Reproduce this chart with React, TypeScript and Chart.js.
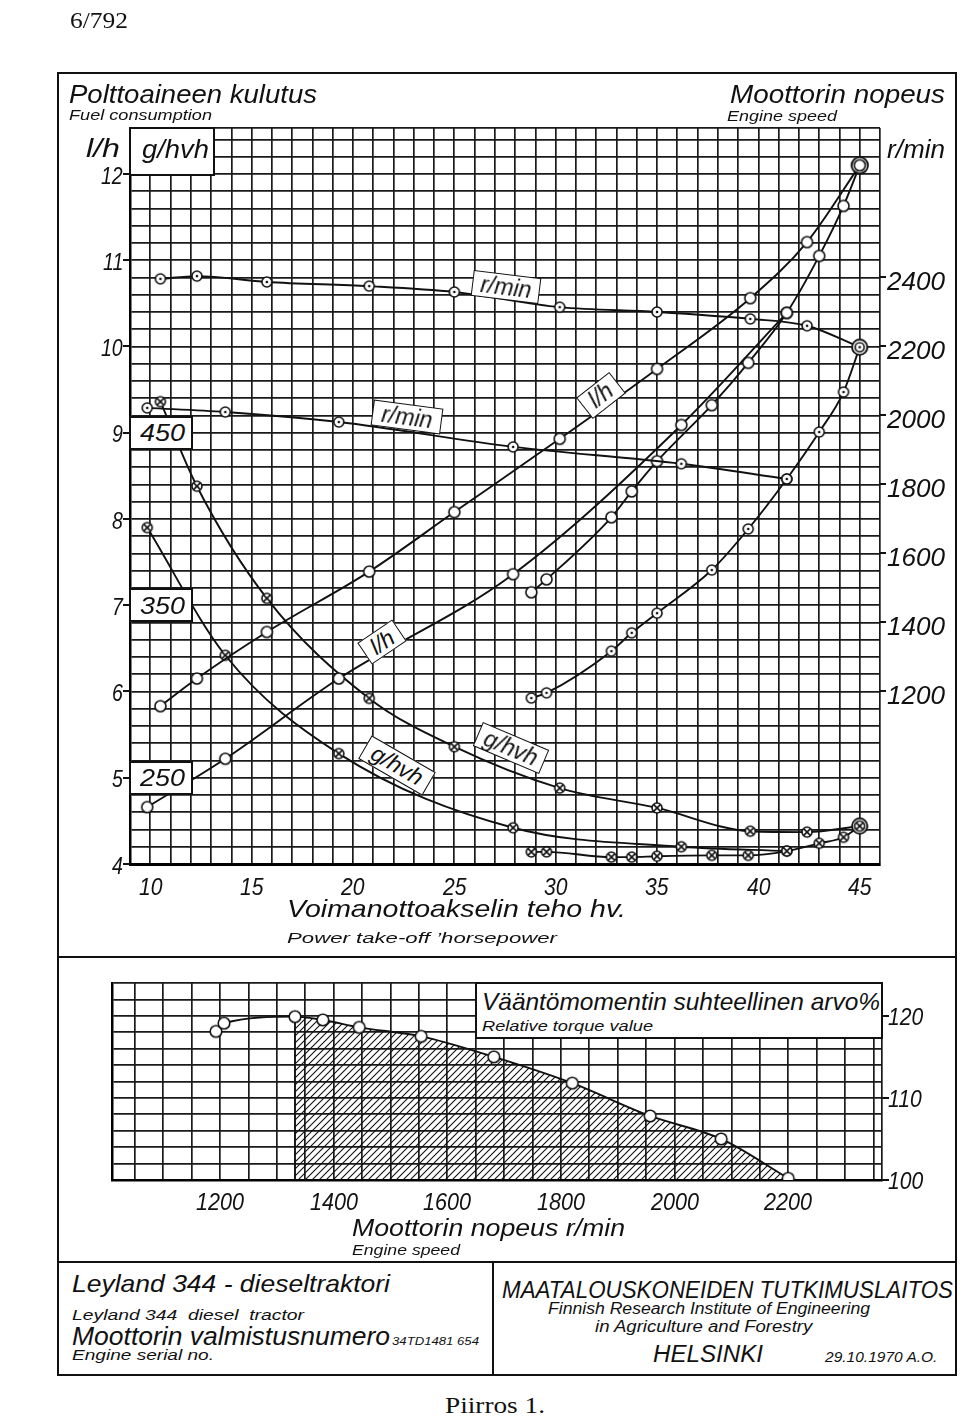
import React, { useEffect, useRef } from 'react';
import { Chart, registerables } from 'chart.js';

Chart.register(...registerables);

// ---------------- Upper chart: fuel consumption vs PTO horsepower ----------------
// Governor run A (≈2400 r/min no load → 2200 r/min at maximum power)
const hpA = [10.5, 12.3, 15.75, 20.8, 25.0, 30.2, 35.0, 39.6, 42.4, 45.0];
const fuelLhA = [5.83, 6.15, 6.69, 7.39, 8.08, 8.93, 9.74, 10.56, 11.21, 12.1];
const speedA = [2396, 2404, 2387, 2375, 2358, 2314, 2300, 2280, 2260, 2198];
const specA = [468, 419, 354, 296, 268, 244, 232.5, 219, 218.5, 222];

// Governor run B (≈2000 r/min)
const hpB = [9.85, 13.7, 19.3, 27.9, 36.2, 41.4];
const fuelLhB = [4.66, 5.22, 6.15, 7.36, 9.09, 10.39];
const speedB = [2022, 2010, 1981, 1909, 1860, 1816];
const specB = [395, 321, 264, 221, 210, 207.5];

// Full-load run (engine speed pulled down)
const hpF = [28.8, 29.55, 32.75, 33.75, 35.0, 37.7, 39.5, 41.4, 43.0, 44.2, 45.0];
const fuelLhF = [7.15, 7.3, 8.02, 8.32, 8.67, 9.32, 9.81, 10.39, 11.05, 11.63, 12.1];
const speedF = [1181, 1196, 1317, 1370, 1427, 1552, 1671, 1816, 1952, 2068, 2198];
const specF = [207, 207, 204, 204, 204.5, 205, 205, 207.5, 212, 215.5, 222];

const hpTicks = [10, 15, 20, 25, 30, 35, 40, 45];
const lhTicks = [4, 5, 6, 7, 8, 9, 10, 11, 12];
const rpmTicks = [2400, 2200, 2000, 1800, 1600, 1400, 1200];
const gTicks = [450, 350, 250];

// ---------------- Lower chart: relative torque ----------------
const torqueRpm = [1193, 1207, 1332, 1381, 1445, 1554, 1682, 1820, 1957, 2082, 2200];
const torquePct = [118.1, 119.1, 119.9, 119.5, 118.6, 117.5, 115.0, 111.8, 107.8, 105.0, 100.2];
const torqueRpmTicks = [1200, 1400, 1600, 1800, 2000, 2200];
const torquePctTicks = [120, 110, 100];
const hatchStart = 2;

// ---------------- layout ----------------
const UP = { left: 130, right: 880, top: 128, bottom: 864, xMin: 9, xMax: 46, yMin: 4, yMax: 12.533 };
const rpmOfL = (l: number) => 1200 + (l - 6) * 250;
const gOfL = (l: number) => 250 + (l - 5) * 50;
const LO = { left: 112, right: 882, top: 983, bottom: 1180, xMin: 1010, xMax: 2365, yMin: 100, yMax: 124 };
const UP_CANVAS_H = 940;
const LO_CANVAS_TOP = 960;
const LO_CANVAS_H = 260;

const ux = (v: number) => UP.left + ((v - UP.xMin) / (UP.xMax - UP.xMin)) * (UP.right - UP.left);
const uy = (l: number) => UP.bottom - ((l - UP.yMin) / (UP.yMax - UP.yMin)) * (UP.bottom - UP.top);
const lx = (v: number) => LO.left + ((v - LO.xMin) / (LO.xMax - LO.xMin)) * (LO.right - LO.left);
const ly = (v: number) => LO.bottom - ((v - LO.yMin) / (LO.yMax - LO.yMin)) * (LO.bottom - LO.top);

const INK = '#111';
const SANS = '"Liberation Sans", Arial, sans-serif';
const SERIF = '"Liberation Serif", "Times New Roman", serif';

function marker(kind: 'open' | 'dot' | 'cross', r: number, outer = 0): HTMLCanvasElement {
  const R = Math.max(r, outer);
  const size = Math.ceil(2 * R + 4);
  const c = document.createElement('canvas');
  c.width = size;
  c.height = size;
  const g = c.getContext('2d')!;
  const m = size / 2;
  g.lineWidth = 1.6;
  g.strokeStyle = INK;
  g.fillStyle = '#fff';
  if (outer) {
    g.beginPath();
    g.arc(m, m, outer, 0, Math.PI * 2);
    g.fill();
    g.stroke();
  }
  g.beginPath();
  g.arc(m, m, r, 0, Math.PI * 2);
  g.fill();
  g.stroke();
  if (kind === 'dot') {
    g.fillStyle = INK;
    g.beginPath();
    g.arc(m, m, 1.3, 0, Math.PI * 2);
    g.fill();
  }
  if (kind === 'cross') {
    const d = r * 0.68;
    g.beginPath();
    g.moveTo(m - d, m - d);
    g.lineTo(m + d, m + d);
    g.moveTo(m + d, m - d);
    g.lineTo(m - d, m + d);
    g.stroke();
  }
  return c;
}

function hatchPattern(): CanvasPattern {
  const s = 7;
  const c = document.createElement('canvas');
  c.width = s;
  c.height = s;
  const g = c.getContext('2d')!;
  g.strokeStyle = INK;
  g.lineWidth = 1.1;
  g.beginPath();
  g.moveTo(0, s);
  g.lineTo(s, 0);
  g.moveTo(-2, 2);
  g.lineTo(2, -2);
  g.moveTo(s - 2, s + 2);
  g.lineTo(s + 2, s - 2);
  g.stroke();
  return g.createPattern(c, 'repeat')!;
}

function series(xs: number[], ys: number[], axis: string, m: HTMLCanvasElement, mLast?: HTMLCanvasElement): any {
  return {
    data: xs.map((x, i) => ({ x, y: ys[i] })),
    yAxisID: axis,
    borderColor: INK,
    borderWidth: 1.9,
    backgroundColor: 'transparent',
    fill: false,
    cubicInterpolationMode: 'monotone',
    pointStyle: (ctx: any) => (mLast && ctx.dataIndex === xs.length - 1 ? mLast : m),
    pointRadius: 6,
    pointHoverRadius: 6,
  };
}

const gridStyle = { color: '#1a1a1a', lineWidth: 1.7, drawTicks: false };

function upperConfig(): any {
  const mOpen = marker('open', 5.5);
  const mDot = marker('dot', 5);
  const mCross = marker('cross', 5);
  const mOpenD = marker('open', 5.5, 8);
  const mDotD = marker('dot', 4.5, 7.5);
  const mCrossD = marker('cross', 5, 7.5);
  return {
    type: 'line',
    data: {
      datasets: [
        series(hpA, speedA, 'yR', mDot, mDotD),
        series(hpB, speedB, 'yR', mDot),
        series(hpF, speedF, 'yR', mDot, mDotD),
        series(hpA, fuelLhA, 'y', mOpen, mOpenD),
        series(hpB, fuelLhB, 'y', mOpen),
        series(hpF, fuelLhF, 'y', mOpen, mOpenD),
        series(hpA, specA, 'yG', mCross, mCrossD),
        series(hpB, specB, 'yG', mCross),
        series(hpF, specF, 'yG', mCross, mCrossD),
      ],
    },
    options: {
      animation: false,
      responsive: false,
      maintainAspectRatio: false,
      devicePixelRatio: 1,
      events: [],
      layout: { padding: { left: UP.left, top: UP.top, right: 960 - UP.right, bottom: UP_CANVAS_H - UP.bottom } },
      plugins: { legend: { display: false }, tooltip: { enabled: false } },
      scales: {
        x: {
          type: 'linear',
          position: 'bottom',
          min: UP.xMin,
          max: UP.xMax,
          ticks: { display: false, stepSize: 1 },
          grid: gridStyle,
          border: { display: true, color: '#000', width: 3 },
        },
        y: {
          type: 'linear',
          position: 'left',
          min: UP.yMin,
          max: UP.yMax,
          afterBuildTicks: (s: any) => {
            const t: any[] = [];
            for (let i = 0; i <= 42; i++) t.push({ value: UP.yMin + i * 0.2 });
            t.push({ value: UP.yMax });
            s.ticks = t;
          },
          ticks: { display: false },
          grid: gridStyle,
          border: { display: true, color: '#000', width: 2.5 },
        },
        yR: { type: 'linear', display: false, position: 'right', min: rpmOfL(UP.yMin), max: rpmOfL(UP.yMax) },
        yG: { type: 'linear', display: false, position: 'left', min: gOfL(UP.yMin), max: gOfL(UP.yMax) },
      },
    },
  };
}

function lowerConfig(): any {
  const mOpen = marker('open', 5.8);
  const pts = torqueRpm.map((x, i) => ({ x, y: torquePct[i] }));
  return {
    type: 'line',
    data: {
      datasets: [
        {
          data: pts,
          borderColor: INK,
          borderWidth: 1.9,
          fill: false,
          cubicInterpolationMode: 'monotone',
          pointStyle: mOpen,
          pointRadius: 6,
        },
        {
          data: pts.slice(hatchStart),
          borderColor: 'transparent',
          borderWidth: 0,
          backgroundColor: hatchPattern(),
          fill: 'start',
          cubicInterpolationMode: 'monotone',
          pointRadius: 0,
        },
        {
          data: [
            { x: torqueRpm[hatchStart], y: torquePct[hatchStart] },
            { x: torqueRpm[hatchStart], y: LO.yMin },
          ],
          borderColor: INK,
          borderWidth: 1.9,
          fill: false,
          pointRadius: 0,
        },
      ],
    },
    options: {
      animation: false,
      responsive: false,
      maintainAspectRatio: false,
      devicePixelRatio: 1,
      events: [],
      layout: {
        padding: {
          left: LO.left,
          top: LO.top - LO_CANVAS_TOP,
          right: 960 - LO.right,
          bottom: LO_CANVAS_H - (LO.bottom - LO_CANVAS_TOP),
        },
      },
      plugins: { legend: { display: false }, tooltip: { enabled: false } },
      scales: {
        x: {
          type: 'linear',
          min: LO.xMin,
          max: LO.xMax,
          afterBuildTicks: (s: any) => {
            const t: any[] = [{ value: LO.xMin }];
            for (let v = 1050; v <= 2350; v += 50) t.push({ value: v });
            t.push({ value: LO.xMax });
            s.ticks = t;
          },
          ticks: { display: false },
          grid: gridStyle,
          border: { display: true, color: '#000', width: 2.5 },
        },
        y: {
          type: 'linear',
          min: LO.yMin,
          max: LO.yMax,
          ticks: { display: false, stepSize: 2 },
          grid: gridStyle,
          border: { display: true, color: '#000', width: 2.5 },
        },
      },
    },
  };
}

// ---------------- text helpers ----------------
let mctx: CanvasRenderingContext2D | null = null;
function measure(t: string, font: string, fs: number): number {
  if (!mctx) mctx = document.createElement('canvas').getContext('2d');
  if (!mctx) return t.length * fs * 0.5;
  mctx.font = font;
  return mctx.measureText(t).width;
}

type TP = {
  t: string;
  x: number;
  b: number;
  fs: number;
  w?: number;
  sx?: number;
  align?: 'left' | 'center' | 'right';
  serif?: boolean;
  upright?: boolean;
};

function Txt({ t, x, b, fs, w, sx, align = 'left', serif = false, upright = false }: TP) {
  const family = serif ? SERIF : SANS;
  const fstyle = upright ? 'normal' : 'italic';
  const nat = measure(t, `${fstyle} ${fs}px ${family}`, fs);
  const k = w ? w / nat : sx ?? 1;
  const fw = nat * k;
  const left = align === 'center' ? x - fw / 2 : align === 'right' ? x - fw : x;
  const asc = serif ? 0.8375 : 0.8465;
  return (
    <div
      style={{
        position: 'absolute',
        left,
        top: b - asc * fs,
        fontFamily: family,
        fontStyle: fstyle,
        fontSize: fs,
        lineHeight: `${fs}px`,
        whiteSpace: 'pre',
        transform: `scaleX(${k})`,
        transformOrigin: '0 0',
        color: INK,
      }}
    >
      {t}
    </div>
  );
}

function Rect({ x, y, w, h }: { x: number; y: number; w: number; h: number }) {
  return <div style={{ position: 'absolute', left: x, top: y, width: w, height: h, background: INK }} />;
}

function Box({ x, y, w, h }: { x: number; y: number; w: number; h: number }) {
  return (
    <div
      style={{
        position: 'absolute',
        left: x,
        top: y,
        width: w,
        height: h,
        boxSizing: 'border-box',
        border: `2px solid ${INK}`,
        background: '#fff',
      }}
    />
  );
}

function Tag({ t, cx, cy, w, h, rot, fs }: { t: string; cx: number; cy: number; w: number; h: number; rot: number; fs: number }) {
  return (
    <div
      style={{
        position: 'absolute',
        left: cx - w / 2,
        top: cy - h / 2,
        width: w,
        height: h,
        boxSizing: 'border-box',
        border: `1.8px solid ${INK}`,
        background: '#fff',
        transform: `rotate(${rot}deg)`,
        display: 'flex',
        alignItems: 'center',
        justifyContent: 'center',
        fontFamily: SANS,
        fontStyle: 'italic',
        fontSize: fs,
        lineHeight: 1,
        whiteSpace: 'nowrap',
        color: INK,
      }}
    >
      {t}
    </div>
  );
}

export default function App() {
  const upRef = useRef<HTMLCanvasElement>(null);
  const loRef = useRef<HTMLCanvasElement>(null);

  useEffect(() => {
    const c1 = new Chart(upRef.current!, upperConfig());
    const c2 = new Chart(loRef.current!, lowerConfig());
    return () => {
      c1.destroy();
      c2.destroy();
    };
  }, []);

  const rpmToL = (r: number) => 6 + (r - 1200) / 250;
  const gToL = (g: number) => 5 + (g - 250) / 50;

  return (
    <div style={{ position: 'absolute', left: 0, top: 0, width: 960, height: 1418, background: '#fff', overflow: 'hidden' }}>
      <canvas
        ref={upRef}
        width={960}
        height={UP_CANVAS_H}
        style={{ position: 'absolute', left: 0, top: 0, width: 960, height: UP_CANVAS_H }}
      />
      <canvas
        ref={loRef}
        width={960}
        height={LO_CANVAS_H}
        style={{ position: 'absolute', left: 0, top: LO_CANVAS_TOP, width: 960, height: LO_CANVAS_H }}
      />

      {/* frame */}
      <Rect x={57} y={72} w={900} h={2} />
      <Rect x={57} y={72} w={2} h={1304} />
      <Rect x={955} y={72} w={2} h={1304} />
      <Rect x={57} y={956} w={900} h={2} />
      <Rect x={57} y={1261} w={900} h={2} />
      <Rect x={57} y={1374} w={900} h={2} />
      <Rect x={492} y={1261} w={2} h={115} />

      <Txt t="6/792" x={70} b={28} fs={24} w={58} serif upright />

      {/* upper headings */}
      <Txt t="Polttoaineen kulutus" x={69} b={103} fs={25} w={248} />
      <Txt t="Fuel consumption" x={69} b={120} fs={14} w={143} />
      <Txt t="Moottorin nopeus" x={730} b={103} fs={25} w={215} />
      <Txt t="Engine speed" x={727} b={121} fs={14} w={110} />
      <Txt t="l/h" x={86} b={157} fs={25} w={34} />
      <Txt t="r/min" x={887} b={158} fs={25} w={58} />

      {/* g/hvh header box */}
      <Box x={129} y={127} w={86} h={49} />
      <Txt t="g/hvh" x={142} b={158} fs={25} w={67} />

      {/* left l/h ticks */}
      {lhTicks.map((v) => (
        <React.Fragment key={'lh' + v}>
          <Rect x={123} y={uy(v) - 1} w={7} h={2} />
          <Txt t={String(v)} x={123} b={uy(v) + 10} fs={23} sx={0.85} align="right" />
        </React.Fragment>
      ))}

      {/* g/hvh value boxes */}
      {gTicks.map((g) => (
        <React.Fragment key={'g' + g}>
          <Box x={129} y={uy(gToL(g)) - 17} w={64} h={34} />
          <Txt t={String(g)} x={162} b={uy(gToL(g)) + 9} fs={24} w={45} align="center" />
        </React.Fragment>
      ))}

      {/* right r/min labels */}
      {rpmTicks.map((r) => (
        <React.Fragment key={'r' + r}>
          <Rect x={880} y={uy(rpmToL(r)) - 1} w={6} h={2} />
          <Txt t={String(r)} x={887} b={uy(rpmToL(r)) + 13} fs={25} w={58} />
        </React.Fragment>
      ))}

      {/* x ticks */}
      {hpTicks.map((v) => (
        <Txt key={'hp' + v} t={String(v)} x={ux(v)} b={895} fs={24} sx={0.88} align="center" />
      ))}
      <Txt t="Voimanottoakselin teho hv." x={287} b={917} fs={24} w={339} />
      <Txt t="Power take-off ’horsepower" x={287} b={943} fs={15} w={270} />

      {/* curve tags */}
      <Tag t="r/min" cx={506} cy={287} w={68} h={26} rot={7} fs={23} />
      <Tag t="r/min" cx={407} cy={417} w={70} h={26} rot={7.5} fs={23} />
      <Tag t="l/h" cx={601} cy={395} w={42} h={27} rot={-38} fs={23} />
      <Tag t="l/h" cx={382} cy={642} w={42} h={26} rot={-34} fs={23} />
      <Tag t="g/hvh" cx={397} cy={765} w={74} h={27} rot={30} fs={23} />
      <Tag t="g/hvh" cx={511} cy={748} w={72} h={26} rot={23} fs={23} />

      {/* lower chart */}
      <Box x={475} y={982} w={408} h={57} />
      <Txt t="Vääntömomentin suhteellinen arvo%" x={482} b={1010} fs={24} w={398} />
      <Txt t="Relative torque value" x={482} b={1031} fs={15} w={171} />
      {torquePctTicks.map((v) => (
        <React.Fragment key={'tp' + v}>
          <Rect x={882} y={ly(v) - 1} w={7} h={2} />
          <Txt t={String(v)} x={888} b={ly(v) + 9} fs={24} sx={0.88} />
        </React.Fragment>
      ))}
      {torqueRpmTicks.map((v) => (
        <Txt key={'tr' + v} t={String(v)} x={lx(v)} b={1210} fs={24} w={48} align="center" />
      ))}
      <Txt t="Moottorin nopeus r/min" x={352} b={1236} fs={24} w={273} />
      <Txt t="Engine speed" x={352} b={1255} fs={15} w={108} />

      {/* footer */}
      <Txt t="Leyland 344 - dieseltraktori" x={72} b={1292} fs={24} w={318} />
      <Txt t="Leyland 344  diesel  tractor" x={72} b={1320} fs={15} w={232} />
      <Txt t="Moottorin valmistusnumero" x={72} b={1345} fs={25} w={318} />
      <Txt t="34TD1481 654" x={392} b={1345} fs={11} w={87} />
      <Txt t="Engine serial no." x={72} b={1360} fs={15} w={142} />
      <Txt t="MAATALOUSKONEIDEN TUTKIMUSLAITOS" x={502} b={1298} fs={24} w={451} />
      <Txt t="Finnish Research Institute of Engineering" x={548} b={1315} fs={16} w={322} />
      <Txt t="in Agriculture and Forestry" x={595} b={1333} fs={16} w={218} />
      <Txt t="HELSINKI" x={653} b={1362} fs={23} w={110} />
      <Txt t="29.10.1970 A.O." x={825} b={1362} fs={15} w={113} />

      <Txt t="Piirros 1." x={445} b={1413} fs={24} w={100} serif upright />
    </div>
  );
}
